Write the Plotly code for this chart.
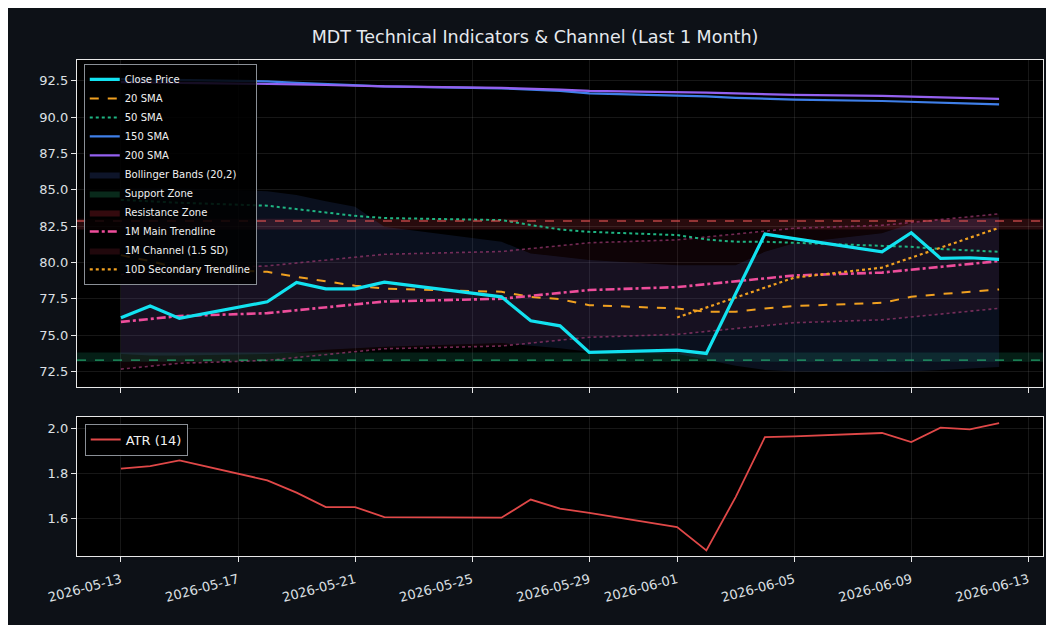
import pandas as pd
import plotly.graph_objects as go
from plotly.subplots import make_subplots

dates = ["2026-05-13", "2026-05-14", "2026-05-15", "2026-05-18", "2026-05-19", "2026-05-20",
         "2026-05-21", "2026-05-22", "2026-05-26", "2026-05-27", "2026-05-28", "2026-05-29",
         "2026-06-01", "2026-06-02", "2026-06-03", "2026-06-04", "2026-06-05", "2026-06-08",
         "2026-06-09", "2026-06-10", "2026-06-11", "2026-06-12"]

close = [76.19, 77.00, 76.15, 77.29, 78.62, 78.18, 78.18, 78.64, 77.63, 75.98, 75.64, 73.81,
         73.96, 73.74, 77.85, 81.95, 81.64, 80.73, 82.04, 80.28, 80.32, 80.21]
sma20 = [80.50, 80.09, 79.59, 79.35, 79.00, 78.70, 78.40, 78.20, 77.98, 77.63, 77.47, 77.06,
         76.83, 76.60, 76.60, 76.83, 77.00, 77.22, 77.63, 77.82, 77.98, 78.14]
sma50 = [84.30, 84.20, 84.10, 83.90, 83.68, 83.45, 83.20, 83.05, 82.91, 82.57, 82.27, 82.10,
         81.88, 81.58, 81.42, 81.42, 81.35, 81.19, 81.07, 80.92, 80.80, 80.73]
sma150 = [92.60, 92.58, 92.55, 92.45, 92.35, 92.25, 92.17, 92.10, 91.97, 91.90, 91.80, 91.63,
          91.51, 91.42, 91.32, 91.24, 91.20, 91.10, 91.05, 90.98, 90.92, 90.87]
sma200 = [92.40, 92.38, 92.36, 92.30, 92.25, 92.20, 92.15, 92.10, 92.00, 91.95, 91.88, 91.80,
          91.74, 91.68, 91.62, 91.56, 91.52, 91.45, 91.40, 91.35, 91.30, 91.24]
bb_upper = [85.10, 85.10, 85.10, 84.90, 84.63, 84.20, 83.83, 82.45, 81.42, 80.62, 80.40, 80.16,
            79.81, 79.81, 79.81, 80.73, 81.31, 82.00, 82.68, 82.91, 83.00, 83.10]
bb_lower = [73.70, 73.60, 73.60, 73.70, 73.80, 74.00, 74.10, 74.20, 74.45, 74.30, 74.10, 73.85,
            73.70, 73.30, 72.90, 72.60, 72.50, 72.47, 72.50, 72.60, 72.70, 72.80]
trend_main = [75.91, 76.11, 76.31, 76.51, 76.71, 76.91, 77.11, 77.31, 77.50, 77.70, 77.90, 78.10,
              78.30, 78.50, 78.70, 78.90, 79.10, 79.30, 79.50, 79.70, 79.89, 80.09]
chan_upper = [79.16, 79.36, 79.56, 79.76, 79.96, 80.16, 80.36, 80.56, 80.75, 80.95, 81.15, 81.35,
              81.55, 81.75, 81.95, 82.15, 82.35, 82.55, 82.75, 82.95, 83.14, 83.34]
chan_lower = [72.66, 72.86, 73.06, 73.26, 73.46, 73.66, 73.86, 74.06, 74.25, 74.45, 74.65, 74.85,
              75.05, 75.25, 75.45, 75.65, 75.85, 76.05, 76.25, 76.45, 76.64, 76.84]
trend10_dates = dates[12:]
trend10 = [76.21, 76.90, 77.58, 78.27, 78.95, 79.64, 80.33, 81.01, 81.70, 82.38]
atr = [1.821, 1.832, 1.857, 1.769, 1.715, 1.651, 1.651, 1.607, 1.604, 1.684, 1.644, 1.625,
       1.563, 1.460, 1.695, 1.960, 1.963, 1.978, 1.938, 2.002, 1.994, 2.022]

support_level = 73.28
support_zone = [73.16, 73.81]
resistance_level = 82.85
resistance_zone = [82.27, 83.00]

xtick_vals = ["2026-05-13", "2026-05-17", "2026-05-21", "2026-05-25", "2026-05-29",
              "2026-06-01", "2026-06-05", "2026-06-09", "2026-06-13"]
ytick_top = [72.5, 75.0, 77.5, 80.0, 82.5, 85.0, 87.5, 90.0, 92.5]
ytick_bot = [1.6, 1.8, 2.0]

x = pd.to_datetime(dates)
x10 = pd.to_datetime(trend10_dates)

FONT = "DejaVu Sans"
TXT = "#dde0e4"

fig = make_subplots(rows=2, cols=1, shared_xaxes=True)

# Bollinger band fill
fig.add_trace(go.Scatter(x=x, y=bb_upper, mode="lines", line=dict(width=0), showlegend=False,
                         hoverinfo="skip"), row=1, col=1)
fig.add_trace(go.Scatter(x=x, y=bb_lower, mode="lines", line=dict(width=0), fill="tonexty",
                         fillcolor="rgba(70,110,200,0.15)", name="Bollinger Bands (20,2)",
                         showlegend=False), row=1, col=1)
# Channel fill
fig.add_trace(go.Scatter(x=x, y=chan_upper, mode="lines",
                         line=dict(width=1.6, color="rgba(150,55,110,0.75)", dash="dot"),
                         showlegend=False), row=1, col=1)
fig.add_trace(go.Scatter(x=x, y=chan_lower, mode="lines",
                         line=dict(width=1.6, color="rgba(150,55,110,0.75)", dash="dot"),
                         fill="tonexty", fillcolor="rgba(200,40,80,0.07)", showlegend=False),
              row=1, col=1)

# Main lines
fig.add_trace(go.Scatter(x=x, y=sma150, mode="lines", line=dict(color="#3f7fe8", width=2.2),
                         showlegend=False), row=1, col=1)
fig.add_trace(go.Scatter(x=x, y=sma200, mode="lines", line=dict(color="#9461f0", width=2.2),
                         showlegend=False), row=1, col=1)
fig.add_trace(go.Scatter(x=x, y=sma50, mode="lines", line=dict(color="#1fb583", width=2, dash="dot"),
                         showlegend=False), row=1, col=1)
fig.add_trace(go.Scatter(x=x, y=sma20, mode="lines", line=dict(color="#f0a020", width=2, dash="dash"),
                         showlegend=False), row=1, col=1)
fig.add_trace(go.Scatter(x=x, y=trend_main, mode="lines",
                         line=dict(color="#ee4d9b", width=2.6, dash="dashdot"), showlegend=False),
              row=1, col=1)
fig.add_trace(go.Scatter(x=x10, y=trend10, mode="lines",
                         line=dict(color="#f0a020", width=2.2, dash="dot"), showlegend=False),
              row=1, col=1)
fig.add_trace(go.Scatter(x=x, y=close, mode="lines", line=dict(color="#12e2f0", width=3.2),
                         showlegend=False), row=1, col=1)

# Legend entries
leg = [
    ("Close Price", dict(mode="lines", line=dict(color="#12e2f0", width=3.2))),
    ("20 SMA", dict(mode="lines", line=dict(color="#f0a020", width=2, dash="dash"))),
    ("50 SMA", dict(mode="lines", line=dict(color="#1fb583", width=2, dash="dot"))),
    ("150 SMA", dict(mode="lines", line=dict(color="#3f7fe8", width=2.2))),
    ("200 SMA", dict(mode="lines", line=dict(color="#9461f0", width=2.2))),
    ("Bollinger Bands (20,2)", dict(mode="lines", line=dict(width=0), fill="toself",
                                    fillcolor="rgba(40,60,120,0.35)")),
    ("Support Zone", dict(mode="lines", line=dict(width=0), fill="toself",
                          fillcolor="rgba(30,140,90,0.3)")),
    ("Resistance Zone", dict(mode="lines", line=dict(width=0), fill="toself",
                             fillcolor="rgba(150,30,40,0.35)")),
    ("1M Main Trendline", dict(mode="lines", line=dict(color="#ee4d9b", width=2.6, dash="dashdot"))),
    ("1M Channel (1.5 SD)", dict(mode="lines", line=dict(width=0), fill="toself",
                                 fillcolor="rgba(110,25,40,0.3)")),
    ("10D Secondary Trendline", dict(mode="lines", line=dict(color="#f0a020", width=2.2, dash="dot"))),
]
for name, kw in leg:
    fig.add_trace(go.Scatter(x=[None], y=[None], name=name, showlegend=True, legend="legend", **kw),
                  row=1, col=1)

# ATR
fig.add_trace(go.Scatter(x=x, y=atr, mode="lines", line=dict(color="#e04848", width=1.8),
                         name="ATR (14)", legend="legend2"), row=2, col=1)

# Zones
fig.add_shape(type="rect", xref="x domain", yref="y", x0=0, x1=1, y0=support_zone[0], y1=support_zone[1],
              fillcolor="rgba(30,170,120,0.18)", line=dict(width=0), layer="below")
fig.add_shape(type="rect", xref="x domain", yref="y", x0=0, x1=1, y0=resistance_zone[0], y1=resistance_zone[1],
              fillcolor="rgba(220,60,70,0.18)", line=dict(width=0), layer="below")
fig.add_shape(type="line", xref="x domain", yref="y", x0=0, x1=1, y0=support_level, y1=support_level,
              line=dict(color="rgba(40,180,120,0.85)", width=1.4, dash="dash"))
fig.add_shape(type="line", xref="x domain", yref="y", x0=0, x1=1, y0=resistance_level, y1=resistance_level,
              line=dict(color="rgba(220,80,80,0.8)", width=1.4, dash="dash"))

axis_common = dict(showline=True, linecolor="#e8e8e8", linewidth=1.3, mirror=True,
                   ticks="outside", tickcolor="#e8e8e8", ticklen=5, tickwidth=1.2,
                   showgrid=True, gridcolor="rgba(255,255,255,0.09)", gridwidth=1,
                   zeroline=False, tickfont=dict(family=FONT, size=13, color=TXT))

xrange = ["2026-05-11 12:00", "2026-06-13 12:00"]
fig.update_xaxes(**axis_common, range=xrange, tickvals=pd.to_datetime(xtick_vals),
                 ticktext=xtick_vals, tickangle=-15, ticklabelstandoff=5)
fig.update_xaxes(domain=[0, 1])
fig.update_yaxes(**axis_common)
fig.update_yaxes(row=1, col=1, range=[71.44, 93.92], tickvals=ytick_top,
                 ticktext=[f"{v:.1f}" for v in ytick_top], domain=[0.341, 1.0])
fig.update_yaxes(row=2, col=1, range=[1.435, 2.049], tickvals=ytick_bot,
                 ticktext=[f"{v:.1f}" for v in ytick_bot], domain=[0.0, 0.2804])

fig.update_layout(
    width=1054, height=625,
    margin=dict(l=69, r=19, t=52, b=77),
    paper_bgcolor="#0d1117", plot_bgcolor="#000000",
    title=dict(text="MDT Technical Indicators & Channel (Last 1 Month)", x=0.5, xanchor="center",
               y=1 - 29 / 625, yanchor="middle", font=dict(family=FONT, size=17.5, color="#e6e9ee")),
    legend=dict(x=0.007, y=0.992, xanchor="left", yanchor="top", bgcolor="rgba(0,0,0,0.85)",
                bordercolor="#8a8f96", borderwidth=1, font=dict(family=FONT, size=10, color="#f0f0f0"),
                tracegroupgap=0, itemwidth=30, traceorder="normal"),
    legend2=dict(x=0.008, y=0.267, xanchor="left", yanchor="top", bgcolor="rgba(0,0,0,0.85)",
                 bordercolor="#8a8f96", borderwidth=1, font=dict(family=FONT, size=13, color="#f0f0f0"),
                 traceorder="normal"),
    showlegend=True,
    hovermode=False,
)

fig.write_html("out.html")
